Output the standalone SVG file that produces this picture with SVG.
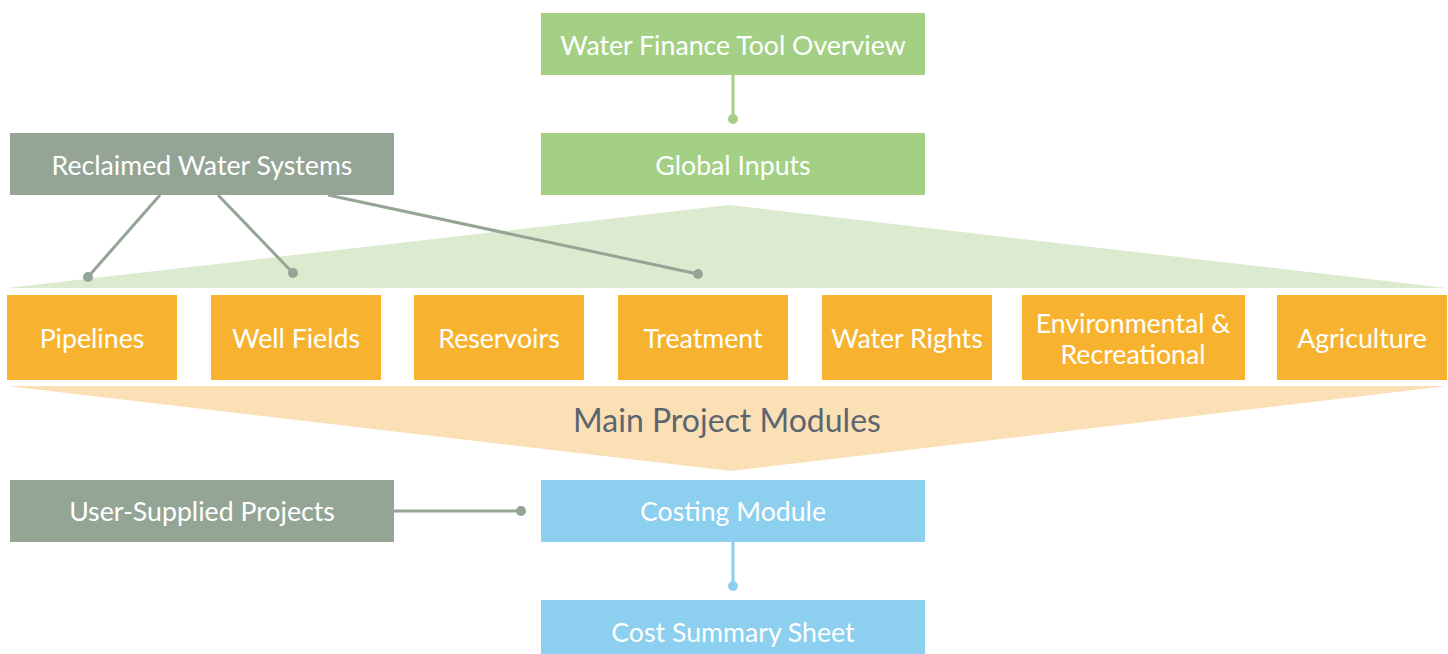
<svg xmlns="http://www.w3.org/2000/svg" width="1448" height="654" viewBox="0 0 1448 654">
<style>
text{font-family:"Lato","Open Sans",sans-serif;font-size:26.7px;fill:#fff;text-anchor:middle;dominant-baseline:central}
.g{fill:#a3d084}.s{fill:#95a595}.o{fill:#f7b32f}.b{fill:#8ccfee}
.lg{stroke:#a3d084;stroke-width:3;fill:none}.ls{stroke:#95a595;stroke-width:3;fill:none}.lb{stroke:#8ccfee;stroke-width:3;fill:none}
.title{fill:#5b6570;font-size:32px}
</style>
<rect width="1448" height="654" fill="#fff"/>
<g id="bands">
<polygon points="7,288 729,205 1447,288" fill="#dcebd0"/>
<polygon points="7,386 1447,386 731,471" fill="#fbe0b5"/>
<text class="title" x="727" y="419">Main Project Modules</text>
</g>
<g id="connectors">
<line class="lg" x1="733" y1="75" x2="733" y2="119"/><circle cx="733" cy="119" r="5" class="g"/>
<line class="ls" x1="160" y1="195" x2="88" y2="277"/><circle cx="88" cy="277" r="5" class="s"/>
<line class="ls" x1="218" y1="195" x2="293" y2="273"/><circle cx="293" cy="273" r="5" class="s"/>
<line class="ls" x1="328" y1="195" x2="698" y2="274"/><circle cx="698" cy="274" r="5" class="s"/>
<line class="ls" x1="394" y1="511" x2="521" y2="511"/><circle cx="521" cy="511" r="5" class="s"/>
<line class="lb" x1="733" y1="542" x2="733" y2="586"/><circle cx="733" cy="586" r="5" class="b"/>
</g>
<g id="overview"><rect class="g" x="541" y="13" width="384" height="62"/><text x="733" y="45">Water Finance Tool Overview</text></g>
<g id="global"><rect class="g" x="541" y="133" width="384" height="62"/><text x="733" y="165">Global Inputs</text></g>
<g id="reclaimed"><rect class="s" x="10" y="133" width="384" height="62"/><text x="202" y="165">Reclaimed Water Systems</text></g>
<g id="pipelines"><rect class="o" x="7" y="295" width="170" height="85"/><text x="92" y="338">Pipelines</text></g>
<g id="wellfields"><rect class="o" x="211" y="295" width="170" height="85"/><text x="296" y="338">Well Fields</text></g>
<g id="reservoirs"><rect class="o" x="414" y="295" width="170" height="85"/><text x="499" y="338">Reservoirs</text></g>
<g id="treatment"><rect class="o" x="618" y="295" width="170" height="85"/><text x="703" y="338">Treatment</text></g>
<g id="waterrights"><rect class="o" x="822" y="295" width="170" height="85"/><text x="907" y="338">Water Rights</text></g>
<g id="environmental"><rect class="o" x="1022" y="295" width="223" height="85"/><text x="1133" y="323">Environmental &amp;</text><text x="1133" y="354">Recreational</text></g>
<g id="agriculture"><rect class="o" x="1277" y="295" width="170" height="85"/><text x="1362" y="338">Agriculture</text></g>
<g id="usersupplied"><rect class="s" x="10" y="480" width="384" height="62"/><text x="202" y="511">User-Supplied Projects</text></g>
<g id="costing"><rect class="b" x="541" y="480" width="384" height="62"/><text x="733" y="511">Costing Module</text></g>
<g id="summary"><rect class="b" x="541" y="600" width="384" height="60"/><text x="733" y="632">Cost Summary Sheet</text></g>
</svg>
